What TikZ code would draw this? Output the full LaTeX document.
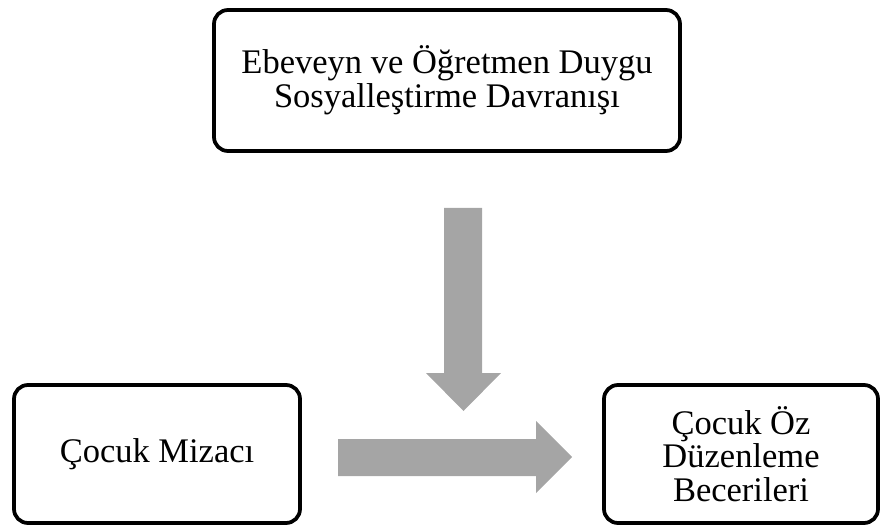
\documentclass[tikz,border=0pt]{standalone}
\usepackage{fontspec}
\setmainfont{Liberation Serif}
\definecolor{arrowgray}{HTML}{A5A5A5}
\tikzset{
  box/.style={draw=black, line width=3.75bp, rounded corners=14bp, fill=white,
    align=center, inner sep=0pt, font=\fontsize{34.5bp}{33.5bp}\selectfont},
  blockarrow/.style={fill=arrowgray, draw=none}
}
\begin{document}
\begin{tikzpicture}[x=1bp, y=-1bp]
\useasboundingbox (0,0) rectangle (881,527);
\node[box, minimum width=466bp, minimum height=141bp] (top) at (447,80.5)
  {Ebeveyn ve Öğretmen Duygu\\Sosyalleştirme Davranışı};
\node[box, minimum width=286bp, minimum height=138bp] (left) at (157,454)
  {Çocuk Mizacı};
\node[box, minimum width=274bp, minimum height=138bp] (right) at (741,454)
  {Çocuk Öz\\Düzenleme\\Becerileri};
% vertical block arrow
\fill[blockarrow] (444,208) -- (482,208) -- (482,373) -- (501,373) -- (463.5,411)
  -- (426,373) -- (444,373) -- cycle;
% horizontal block arrow
\fill[blockarrow] (338,439) -- (536,439) -- (536,421) -- (572,457) -- (536,493)
  -- (536,476) -- (338,476) -- cycle;
\end{tikzpicture}
\end{document}
